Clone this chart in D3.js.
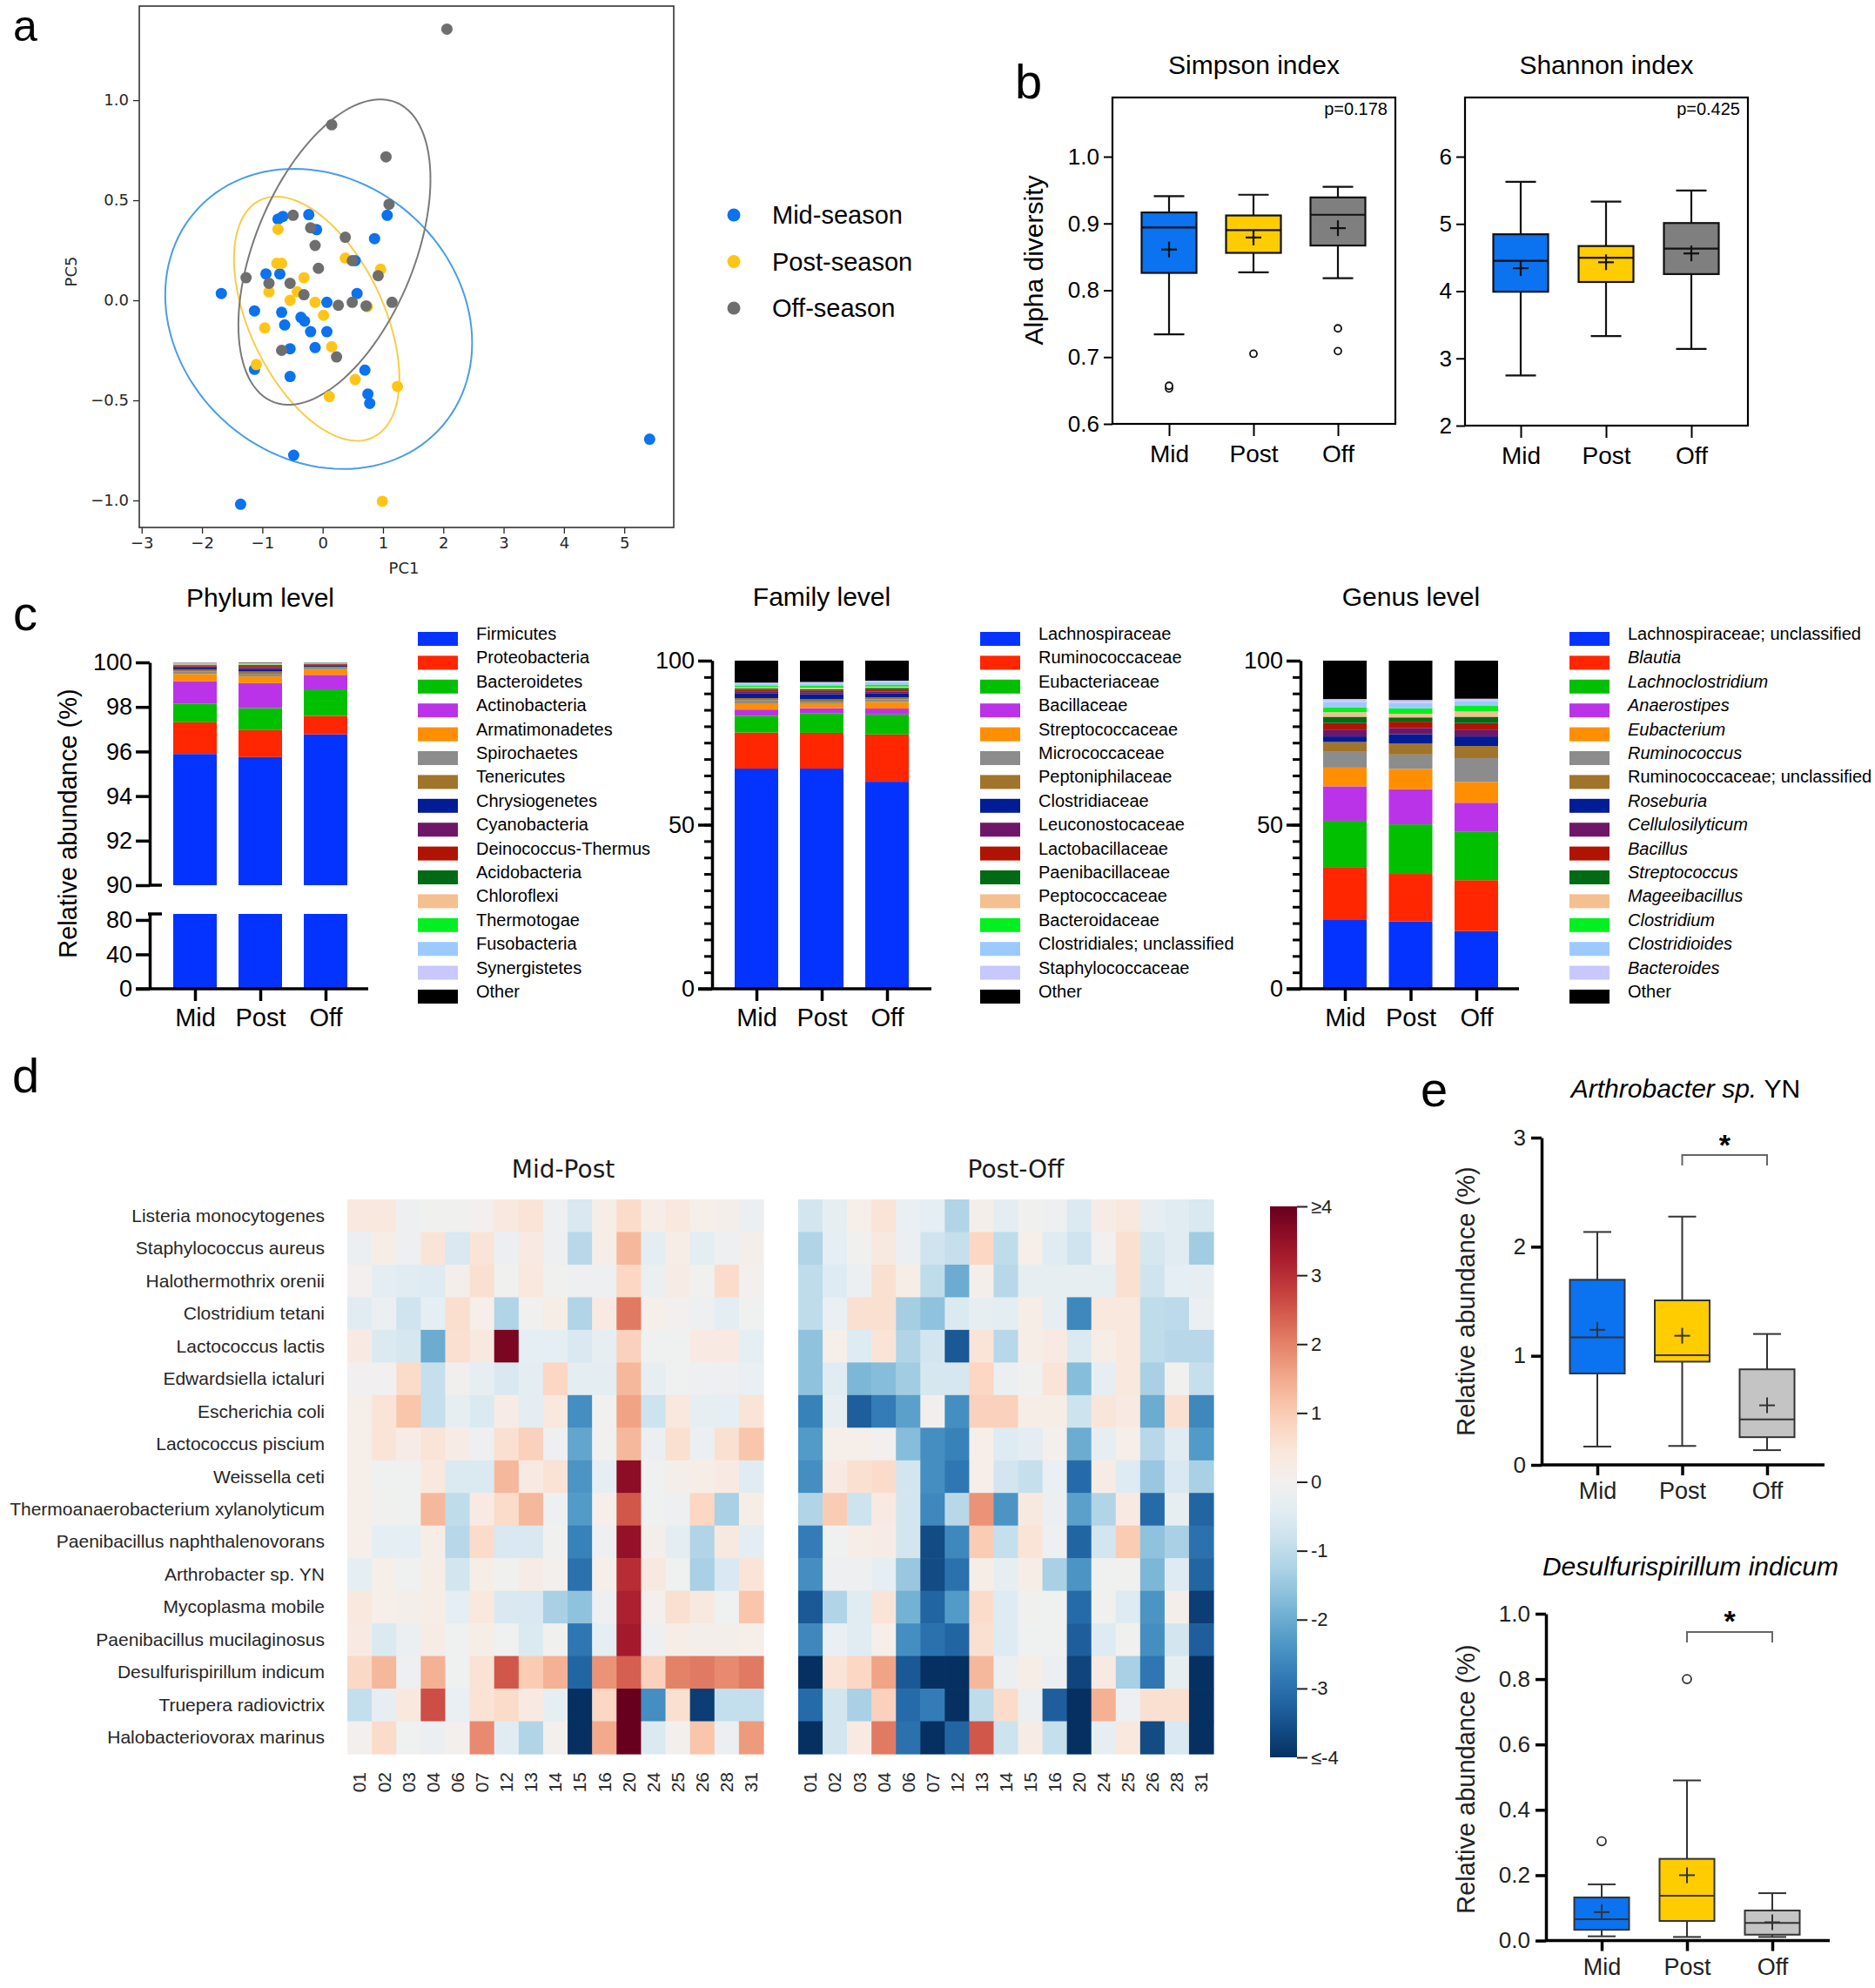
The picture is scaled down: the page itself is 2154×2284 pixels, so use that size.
<!DOCTYPE html>
<html><head><meta charset="utf-8">
<script src="https://cdn.jsdelivr.net/npm/d3@7"></script>
<style>body{margin:0;background:#fff}</style>
</head><body>
<svg id="fig" width="2154" height="2284" xmlns="http://www.w3.org/2000/svg"></svg>
<script>
// ================= DATA =================
const seasonNames = ["Mid-season", "Post-season", "Off-season"];
const groups = ["Mid", "Post", "Off"];

// Panel a: PCA scores [PC1, PC5]
const pcaMid = [[5.42,-0.694],[-1.36,-1.019],[-0.48,-0.774],[-1.68,0.034],[-1.13,-0.053],[-0.94,0.132],[-0.71,0.132],
  [-0.74,0.406],[-0.66,0.419],[-0.23,0.428],[-0.10,0.353],[0.86,0.308],[1.07,0.425],[0.54,0.198],[0.57,0.034],
  [0.07,-0.010],[-0.68,-0.060],[-0.63,-0.123],[-0.36,-0.085],[-0.30,-0.104],[-0.20,-0.157],[0.07,-0.157],
  [-0.54,-0.242],[-0.125,-0.236],[-1.13,-0.345],[-0.54,-0.381],[0.70,-0.349],[0.75,-0.468],[0.78,-0.515]];
const pcaPost = [[0.99,-1.004],[-0.74,0.355],[-0.76,0.185],[-0.68,0.185],[0.375,0.211],[0.96,0.155],[-0.31,0.113],
  [-0.89,0.042],[-0.42,0.042],[-0.54,0.0],[-0.125,-0.010],[0.015,-0.075],[-0.96,-0.138],[0.15,-0.232],
  [-1.10,-0.321],[0.54,-0.396],[0.11,-0.481],[1.24,-0.430],[0.74,-0.032]];
const pcaOff = [[2.06,1.355],[0.15,0.877],[1.05,0.717],[1.10,0.480],[-0.49,0.425],[-0.20,0.362],[0.375,0.315],
  [-0.125,0.274],[-0.07,0.160],[0.49,0.198],[0.92,0.123],[-1.27,0.113],[-0.89,0.085],[-0.54,0.085],[-0.31,0.028],
  [0.26,-0.025],[0.49,-0.010],[0.72,-0.028],[1.15,-0.010],[-0.68,-0.250],[0.23,-0.283]];
// confidence ellipses: [centre PC1, centre PC5, half-range PC1, half-range PC5, phase (deg)]
const ellipseMid = [-0.066, -0.093, 2.544, 0.750, 99.2];
const ellipsePost = [-0.099, -0.092, 1.371, 0.610, 119.3];
const ellipseOff = [0.195, 0.241, 1.592, 0.763, 61.5];
const pcaXTicks = [-3,-2,-1,0,1,2,3,4,5];
const pcaYTicks = [-1.0,-0.5,0.0,0.5,1.0];

// Panel b: box stats [min, Q1, median, Q3, max, mean]
const simpsonStats = [[0.734,0.826,0.894,0.9165,0.941,0.861],[0.827,0.856,0.890,0.912,0.943,0.879],[0.818,0.867,0.913,0.939,0.955,0.893]];
const simpsonOutliers = [[0.653,0.657],[0.705],[0.709,0.743]];
const shannonStats = [[2.746,3.991,4.452,4.846,5.627,4.342],[3.333,4.136,4.496,4.671,5.333,4.430],[3.140,4.254,4.632,5.013,5.496,4.561]];
const shannonOutliers = [[],[],[]];
const simpsonTicks = [0.6,0.7,0.8,0.9,1.0];
const shannonTicks = [2,3,4,5,6];
const pValues = ["p=0.178", "p=0.425"];

// Panel c: relative abundance (%) per group, taxa in stacking order
const phylumNames = ["Firmicutes","Proteobacteria","Bacteroidetes","Actinobacteria","Armatimonadetes","Spirochaetes","Tenericutes","Chrysiogenetes","Cyanobacteria","Deinococcus-Thermus","Acidobacteria","Chloroflexi","Thermotogae","Fusobacteria","Synergistetes","Other"];
const phylumMid  = [95.89,1.42,0.84,1.01,0.32,0.12,0.08,0.08,0.06,0.05,0.03,0.03,0.02,0.02,0.02,0.01];
const phylumPost = [95.75,1.21,0.99,1.12,0.30,0.12,0.10,0.12,0.07,0.06,0.04,0.03,0.03,0.02,0.02,0.02];
const phylumOff  = [96.77,0.83,1.19,0.65,0.24,0.07,0.06,0.04,0.04,0.03,0.02,0.02,0.01,0.01,0.01,0.01];
const familyNames = ["Lachnospiraceae","Ruminococcaceae","Eubacteriaceae","Bacillaceae","Streptococcaceae","Micrococcaceae","Peptoniphilaceae","Clostridiaceae","Leuconostocaceae","Lactobacillaceae","Paenibacillaceae","Peptococcaceae","Bacteroidaceae","Clostridiales; unclassified","Staphylococcaceae","Other"];
const familyMid  = [67.1,11.0,5.1,1.9,1.9,0.9,0.7,1.5,0.4,0.6,0.4,0.4,0.4,0.6,0.4,6.7];
const familyPost = [67.1,10.9,5.9,1.6,1.3,0.7,0.7,1.6,0.6,0.5,0.4,0.4,0.6,0.7,0.5,6.5];
const familyOff  = [63.1,14.4,6.1,1.8,2.0,0.8,0.6,1.3,0.5,0.6,0.5,0.4,0.6,0.7,0.5,6.1];
const genusNames = ["Lachnospiraceae; unclassified","Blautia","Lachnoclostridium","Anaerostipes","Eubacterium","Ruminococcus","Ruminococcaceae; unclassified","Roseburia","Cellulosilyticum","Bacillus","Streptococcus","Mageeibacillus","Clostridium","Clostridioides","Bacteroides","Other"];
const genusItalic = [false,true,true,true,true,true,false,true,true,true,true,true,true,true,true,false];
const genusMid  = [20.95,16.15,14.1,10.5,5.7,5.0,2.8,1.7,2.1,2.0,1.9,1.4,1.4,1.7,0.9,11.7];
const genusPost = [20.5,14.5,15.1,10.7,6.2,4.4,3.4,2.8,1.9,1.9,1.3,1.1,1.7,1.6,0.9,12.0];
const genusOff  = [17.6,15.5,14.7,8.9,6.3,7.3,3.7,2.9,2.1,2.0,1.9,1.7,1.6,1.4,0.8,11.6];
const phylumUpperTicks = [90,92,94,96,98,100];
const phylumLowerTicks = [0,40,80];
const phylumBreak = [87, 90];
const pctMajorTicks = [0,50,100];
const pctMinorTicks = d3.range(0,101,5);

// Panel d: log2 fold change heatmaps
const heatRows = ["Listeria monocytogenes","Staphylococcus aureus","Halothermothrix orenii","Clostridium tetani","Lactococcus lactis","Edwardsiella ictaluri","Escherichia coli","Lactococcus piscium","Weissella ceti","Thermoanaerobacterium xylanolyticum","Paenibacillus naphthalenovorans","Arthrobacter sp. YN","Mycoplasma mobile","Paenibacillus mucilaginosus","Desulfurispirillum indicum","Truepera radiovictrix","Halobacteriovorax marinus"];
const heatCols = ["01","02","03","04","06","07","12","13","14","15","16","20","24","25","26","28","31"];
const heatMidPost = [
 [0.4,0.4,-0.15,-0.05,-0.05,0.0,0.4,0.5,-0.15,-0.6,0.2,0.7,0.2,0.4,0.15,0.1,-0.2],
 [-0.2,0.2,-0.15,0.5,-0.6,0.5,-0.2,0.3,-0.15,-1.1,0.2,1.3,-0.4,0.2,-0.4,-0.15,0.1],
 [0.0,-0.4,-0.45,-0.5,0.1,0.6,-0.05,0.4,-0.05,-0.15,-0.15,0.8,-0.2,0.25,-0.05,0.7,0.05],
 [-0.45,-0.2,-0.75,-0.35,0.65,0.15,-1.2,-0.05,0.2,-1.2,0.3,2.1,0.15,0.0,-0.15,-0.4,-0.1],
 [0.3,-0.55,-0.65,-2.0,0.6,0.35,3.8,-0.35,-0.35,-0.6,-0.3,0.9,-0.1,-0.1,0.3,0.3,-0.35],
 [-0.03,-0.03,0.7,-0.9,-0.02,-0.3,-0.6,-0.4,0.8,-0.4,-0.4,1.3,-0.3,-0.1,-0.15,-0.15,-0.25],
 [0.15,0.5,1.1,-0.9,-0.3,-0.55,0.25,-0.4,0.4,-2.5,-0.05,1.6,-0.8,0.4,-0.3,-0.35,0.5],
 [0.15,0.5,0.25,0.5,0.25,-0.15,0.6,0.9,-0.15,-2.1,-0.05,1.3,-0.2,0.6,-0.2,0.6,1.1],
 [0.15,-0.1,-0.1,0.4,-0.55,-0.55,1.3,0.3,0.55,-2.4,-0.35,3.6,-0.1,0.1,0.2,0.3,-0.45],
 [0.15,-0.05,-0.1,1.3,-1.0,0.3,0.7,1.3,-0.15,-2.3,0.15,2.5,-0.1,-0.15,0.8,-1.3,0.2],
 [0.15,-0.35,-0.35,0.2,-1.1,0.7,-0.6,-0.6,-0.05,-2.7,-0.15,3.5,0.1,-0.4,-1.2,0.35,-0.4],
 [-0.35,0.15,-0.1,0.2,-0.7,0.2,-0.05,0.25,0.05,-3.0,0.15,3.0,0.35,-0.1,-1.3,-0.6,0.5],
 [0.4,0.15,0.1,0.2,-0.35,0.4,-0.6,-0.6,-1.3,-1.6,-0.15,3.2,0.05,0.6,0.35,-0.1,1.1],
 [0.3,-0.55,-0.2,0.25,-0.1,0.2,-0.1,-0.55,-0.05,-2.9,-0.35,3.3,-0.15,0.2,0.1,0.1,0.15],
 [0.75,1.3,-0.15,1.4,-0.1,0.55,2.5,1.0,1.4,-3.2,1.8,2.4,0.9,2.0,2.1,1.9,2.1],
 [-0.95,-0.3,0.4,2.6,-0.25,0.55,0.7,0.3,-0.35,-4,0.8,4,-2.5,0.6,-3.8,-0.95,-0.95],
 [0.05,0.7,-0.1,-0.2,0.02,1.9,-0.45,-1.2,0.02,-4,1.5,4,-0.55,0.05,1.1,-0.2,1.7]];
const heatPostOff = [
 [-0.7,-0.3,0.15,0.5,-0.25,-0.35,-1.2,0.1,-0.4,-0.05,-0.15,-0.55,0.25,0.4,-0.3,-0.45,-0.6],
 [-1.2,-0.35,-0.05,0.35,-0.2,-0.75,-0.9,0.8,-1.0,0.15,-0.45,-0.75,-0.05,0.6,-0.65,-0.45,-1.4],
 [-1.0,-0.5,-0.2,0.6,0.2,-1.0,-2.0,0.1,-1.1,-0.3,-0.3,-0.3,-0.3,0.6,-0.75,-0.35,-0.3],
 [-1.0,-0.25,0.6,0.6,-1.35,-1.6,-0.55,-0.3,-0.4,0.2,-0.3,-2.6,0.4,0.4,-1.0,-1.05,-0.2],
 [-1.6,0.15,-0.5,0.5,-1.2,-0.7,-3.4,0.5,-1.1,0.2,0.3,-0.55,0.2,0.4,-1.0,-1.1,-1.1],
 [-1.6,-0.45,-1.8,-1.7,-1.4,-0.65,-0.65,0.8,-0.2,-0.05,0.5,-1.7,-0.3,0.4,-1.3,-0.05,-0.9],
 [-2.7,-0.3,-3.3,-2.8,-2.2,-0.02,-2.5,0.9,0.9,0.2,0.2,-0.8,0.45,0.3,-2.0,0.6,-2.6],
 [-2.3,0.15,0.15,0.0,-1.7,-2.5,-2.7,0.15,-0.5,-0.4,0.05,-2.0,-0.3,0.15,-1.1,-0.45,-2.3],
 [-2.5,0.3,0.6,0.7,-0.7,-2.5,-2.9,0.15,-0.7,-0.9,-0.25,-3.1,0.25,-0.5,-1.5,-0.6,-1.3],
 [-1.2,1.0,-0.8,0.3,-0.7,-2.6,-1.1,1.8,-2.4,0.35,-0.2,-2.2,-1.2,0.3,-3.1,-0.3,-3.2],
 [-2.8,-0.1,0.2,0.25,-0.7,-3.6,-2.6,1.0,-0.9,0.5,-0.15,-3.2,-0.7,1.0,-1.6,-1.3,-3.0],
 [-2.5,-0.15,-0.15,-0.35,-1.5,-3.6,-3.0,0.2,-0.3,0.2,-1.3,-2.4,-0.1,-0.05,-1.8,-0.5,-3.2],
 [-3.4,-1.2,-0.45,0.5,-1.9,-3.2,-2.3,0.7,-0.5,-0.05,-0.1,-3.1,-0.05,-0.5,-2.4,0.1,-3.8],
 [-2.6,-0.25,-0.45,0.15,-2.5,-3.0,-3.2,0.6,-0.5,-0.1,-0.1,-3.3,-0.5,-0.05,-2.5,-0.7,-3.3],
 [-4,0.5,0.8,1.6,-3.4,-4,-4,1.3,-0.2,0.2,-0.2,-3.7,0.3,-1.3,-2.9,-0.3,-4],
 [-3.1,-0.7,-1.3,0.9,-3.1,-2.8,-4,-1.0,0.7,-0.2,-3.3,-4,1.4,-0.15,0.6,0.6,-4],
 [-4,-0.7,0.3,2.1,-3.0,-4,-3.2,2.5,-0.8,0.25,-0.9,-4,-0.3,0.4,-3.6,-0.6,-4]];
const colorbarTicks = [-4,-3,-2,-1,0,1,2,3,4];
const colorbarLabels = ["≤-4","-3","-2","-1","0","1","2","3","≥4"];

// Panel e: box stats [min, Q1, median, Q3, max, mean]
const arthroStats = [[0.168,0.838,1.168,1.697,2.135,1.238],[0.173,0.946,1.005,1.508,2.276,1.184],[0.135,0.254,0.416,0.876,1.200,0.546]];
const arthroOutliers = [[],[],[]];
const desulfStats = [[0.013,0.033,0.065,0.132,0.172,0.087],[0.011,0.060,0.137,0.250,0.490,0.200],[0.011,0.018,0.054,0.092,0.145,0.056]];
const desulfOutliers = [[0.304],[0.80],[]];
const arthroTicks = [0,1,2,3];
const desulfTicks = [0,0.2,0.4,0.6,0.8,1.0];

// ================= STYLE =================
const F = "'Liberation Sans', Arial, Helvetica, sans-serif";
const FD = "'DejaVu Sans', Verdana, sans-serif";
const seasonColors = ["#0b72f0", "#ffc516", "#6e6e6e"];
const ellipseColors = ["#4a9de8", "#f8cd4a", "#7a7a7a"];
const boxColorsB = ["#0b72f0", "#ffcc00", "#7f7f7f"];
const boxColorsE = ["#0b72f0", "#ffcc00", "#c4c4c4"];
const palette = ["#0433ff","#ff2600","#00c000","#bb33e8","#ff8f00","#8c8c8c","#a0742a","#001c96","#6e1768","#b01400","#006a14","#f5c08f","#00f020","#9ccaff","#c8c8ff","#000000"];

const svg = d3.select("#fig");
svg.append("rect").attr("width",2154).attr("height",2284).attr("fill","#fff");

function txt(g, x, y, s, size, opts = {}) {
  const t = g.append("text").attr("x", x).attr("y", y).text(s)
    .attr("font-family", opts.family || F).attr("font-size", size)
    .attr("fill", opts.fill || "#000").attr("text-anchor", opts.anchor || "start");
  if (opts.italic) t.attr("font-style", "italic");
  if (opts.weight) t.attr("font-weight", opts.weight);
  if (opts.rotate) t.attr("transform", `rotate(${opts.rotate},${x},${y})`);
  return t;
}
function styleAxis(g, size, width, color, family) {
  g.selectAll("text").attr("font-family", family || F).attr("font-size", size).attr("fill", color || "#000");
  g.selectAll("line").attr("stroke", color || "#000").attr("stroke-width", width);
  g.selectAll("path.domain").attr("stroke", color || "#000").attr("stroke-width", width);
}

// panel letters
[["a",15,47,50],["b",1166,113,56],["c",15,724,56],["d",14,1255,56],["e",1632,1271,56]].forEach(d => txt(svg, d[1], d[2], d[0], d[3]));

// ================= PANEL A =================
{
  const g = svg.append("g");
  const x = d3.scaleLinear().domain([-3.04, 5.82]).range([160, 774]);
  const y = d3.scaleLinear().domain([-1.135, 1.47]).range([606, 7]);
  const ax = g.append("g").attr("transform","translate(0,606)")
    .call(d3.axisBottom(x).tickValues(pcaXTicks).tickFormat(d3.format("d")).tickSize(7).tickPadding(4));
  ax.select(".domain").remove();
  styleAxis(ax, 18, 1.3, "#262626", FD);
  const ay = g.append("g").attr("transform","translate(160,0)")
    .call(d3.axisLeft(y).tickValues(pcaYTicks).tickFormat(d3.format(".1f")).tickSize(7).tickPadding(5));
  ay.select(".domain").remove();
  styleAxis(ay, 18, 1.3, "#262626", FD);
  g.append("rect").attr("x",160).attr("y",7).attr("width",614).attr("height",599)
    .attr("fill","none").attr("stroke","#333").attr("stroke-width",1.6);
  txt(g, 464, 659, "PC1", 18, {family: FD, anchor: "middle", fill: "#262626"});
  txt(g, 88, 312, "PC5", 18, {family: FD, anchor: "middle", fill: "#262626", rotate: -90});

  const ells = [ellipseMid, ellipsePost, ellipseOff];
  const line = d3.line().x(d => x(d[0])).y(d => y(d[1]));
  ells.forEach((e, i) => {
    const ph = e[4] * Math.PI / 180;
    const pts = d3.range(0, 361, 3).map(a => { const t = a * Math.PI / 180; return [e[0] + e[2]*Math.cos(t), e[1] + e[3]*Math.cos(t - ph)]; });
    g.append("path").attr("d", line(pts)).attr("fill","none").attr("stroke", ellipseColors[i]).attr("stroke-width", 2);
  });
  [pcaMid, pcaPost, pcaOff].forEach((pts, i) => {
    g.selectAll(null).data(pts).enter().append("circle")
      .attr("cx", d => x(d[0])).attr("cy", d => y(d[1])).attr("r", 6.5).attr("fill", seasonColors[i]);
  });
  // legend
  const ly = d3.scalePoint().domain(seasonNames).range([247, 354]);
  seasonNames.forEach((s, i) => {
    g.append("circle").attr("cx", 843).attr("cy", ly(s)).attr("r", 7.5).attr("fill", seasonColors[i]);
    txt(g, 887, ly(s) + 10, s, 29);
  });
}

// ================= BOX PLOT HELPER =================
function drawBox(g, x, y, cat, s, outs, fill, o) {
  const cx = x(cat);
  const sw = o.sw, st = o.stroke;
  g.append("line").attr("x1",cx).attr("x2",cx).attr("y1",y(s[0])).attr("y2",y(s[4])).attr("stroke",st).attr("stroke-width",sw);
  [s[0], s[4]].forEach(v => g.append("line").attr("x1",cx-o.cw/2).attr("x2",cx+o.cw/2).attr("y1",y(v)).attr("y2",y(v)).attr("stroke",st).attr("stroke-width",sw));
  g.append("rect").attr("x",cx-o.bw/2).attr("width",o.bw).attr("y",y(s[3])).attr("height",y(s[1])-y(s[3]))
    .attr("fill",fill).attr("stroke",st).attr("stroke-width",sw);
  g.append("line").attr("x1",cx-o.bw/2).attr("x2",cx+o.bw/2).attr("y1",y(s[2])).attr("y2",y(s[2])).attr("stroke",st).attr("stroke-width",sw);
  const m = y(s[5]);
  g.append("line").attr("x1",cx-o.pl).attr("x2",cx+o.pl).attr("y1",m).attr("y2",m).attr("stroke",st).attr("stroke-width",sw);
  g.append("line").attr("x1",cx).attr("x2",cx).attr("y1",m-o.pl).attr("y2",m+o.pl).attr("stroke",st).attr("stroke-width",sw);
  outs.forEach(v => g.append("circle").attr("cx",cx).attr("cy",y(v)).attr("r",o.or).attr("fill","#fff").attr("stroke",st).attr("stroke-width",1.8));
}

// ================= PANEL B =================
function panelB(x0, x1, yTop, yBot, domain, ticks, fmt, stats, outs, centers, title, pval) {
  const g = svg.append("g");
  const y = d3.scaleLinear().domain(domain).range([yBot, yTop.at0]);
  const x = d3.scalePoint().domain(groups).range(centers);
  const ay = g.append("g").attr("transform",`translate(${x0},0)`)
    .call(d3.axisLeft(y).tickValues(ticks).tickFormat(fmt).tickSize(10).tickPadding(5));
  ay.select(".domain").remove();
  styleAxis(ay, 26, 2, "#000");
  const ax = g.append("g").attr("transform",`translate(0,${yBot})`)
    .call(d3.axisBottom(x).tickSize(14).tickPadding(10));
  ax.select(".domain").remove();
  styleAxis(ax, 28, 2, "#000");
  g.append("rect").attr("x",x0).attr("y",yTop.frame).attr("width",x1-x0).attr("height",yBot-yTop.frame)
    .attr("fill","none").attr("stroke","#000").attr("stroke-width",2.2);
  groups.forEach((c, i) => drawBox(g, x, y, c, stats[i], outs[i], boxColorsB[i], {bw:63, cw:35, sw:2.2, stroke:"#111", pl:9, or:4}));
  txt(g, (x0+x1)/2, 85, title, 30, {anchor:"middle"});
  txt(g, x1-9, 132, pval, 20, {anchor:"end"});
}
panelB(1278, 1603, {at0:180, frame:112}, 487, [0.6,1.0], simpsonTicks, d3.format(".1f"), simpsonStats, simpsonOutliers, [1343,1537], "Simpson index", pValues[0]);
panelB(1683, 2008, {at0:180, frame:112}, 489, [2,6], shannonTicks, d3.format("d"), shannonStats, shannonOutliers, [1747,1943], "Shannon index", pValues[1]);
txt(svg, 1198, 299, "Alpha diversity", 30, {anchor:"middle", rotate:-90});

// ================= PANEL C =================
function legend(g, names, x0, italic) {
  const ly = d3.scalePoint().domain(d3.range(names.length)).range([734, 1145]);
  names.forEach((n, i) => {
    g.append("rect").attr("x", x0).attr("y", ly(i)-8).attr("width", 46).attr("height", 16).attr("fill", palette[i]);
    txt(g, x0 + 67, ly(i) + 1, n, 20, {italic: italic ? italic[i] : false});
  });
}
function stackBars(g, vals, x, y, bw) {
  groups.forEach((grp, gi) => {
    let cum = 0;
    vals[gi].forEach((v, i) => {
      const y0 = cum, y1 = cum + v; cum = y1;
      const top = y(y1), bot = y(y0);
      if (bot - top > 0.01)
        g.append("rect").attr("x", x(grp)-bw/2).attr("width", bw).attr("y", top).attr("height", bot-top).attr("fill", palette[i]);
    });
  });
}
function xAxisC(g, x, axX, xEnd, yBase) {
  const ax = g.append("g").attr("transform",`translate(0,${yBase})`).call(d3.axisBottom(x).tickSize(14).tickPadding(8));
  ax.select(".domain").remove();
  styleAxis(ax, 29, 3.5, "#000");
  g.append("line").attr("x1",axX-16).attr("x2",xEnd).attr("y1",yBase).attr("y2",yBase).attr("stroke","#000").attr("stroke-width",3.5);
}
// Phylum
{
  const g = svg.append("g");
  const x = d3.scalePoint().domain(groups).range([224, 374]);
  const yUp = d3.scaleLinear().domain([phylumBreak[1], 100]).range([1017, 761]).clamp(true);
  const yLow = d3.scaleLinear().domain([0, phylumBreak[0]]).range([1136, 1050]).clamp(true);
  const vals = [phylumMid, phylumPost, phylumOff];
  // lower segment: only the part of the stack up to the break
  groups.forEach((grp, gi) => {
    g.append("rect").attr("x", x(grp)-25).attr("width", 50).attr("y", yLow(Math.min(vals[gi][0], phylumBreak[0])))
      .attr("height", yLow(0) - yLow(Math.min(vals[gi][0], phylumBreak[0]))).attr("fill", palette[0]);
  });
  stackBars(g, vals, x, yUp, 50);
  const a1 = g.append("g").attr("transform","translate(172,0)").call(d3.axisLeft(yUp).tickValues(phylumUpperTicks).tickSize(16).tickSizeOuter(0).tickPadding(4));
  styleAxis(a1, 27, 3.5, "#000");
  const a2 = g.append("g").attr("transform","translate(172,0)").call(d3.axisLeft(yLow).tickValues(phylumLowerTicks).tickSize(16).tickSizeOuter(0).tickPadding(4));
  styleAxis(a2, 27, 3.5, "#000");
  g.append("line").attr("x1",172).attr("x2",186).attr("y1",yUp(phylumBreak[1])).attr("y2",yUp(phylumBreak[1])).attr("stroke","#000").attr("stroke-width",3.5);
  g.append("line").attr("x1",170).attr("x2",186).attr("y1",yLow(phylumBreak[0])).attr("y2",yLow(phylumBreak[0])).attr("stroke","#000").attr("stroke-width",3.5);
  xAxisC(g, x, 172, 423, 1136);
  txt(g, 299, 697, "Phylum level", 30, {anchor:"middle"});
  txt(g, 88, 946, "Relative abundance (%)", 29, {anchor:"middle", rotate:-90});
  legend(g, phylumNames, 480);
}
function pctPanel(vals, names, italic, axX, centers, xEnd, title, titleX, legX) {
  const g = svg.append("g");
  const x = d3.scalePoint().domain(groups).range(centers);
  const y = d3.scaleLinear().domain([0,100]).range([1136, 759]);
  stackBars(g, vals, x, y, 50);
  const a2 = g.append("g").attr("transform",`translate(${axX},0)`).call(d3.axisLeft(y).tickValues(pctMinorTicks).tickFormat("").tickSize(9).tickSizeOuter(0));
  styleAxis(a2, 27, 3, "#000");
  const a1 = g.append("g").attr("transform",`translate(${axX},0)`).call(d3.axisLeft(y).tickValues(pctMajorTicks).tickSize(16).tickSizeOuter(0).tickPadding(4));
  styleAxis(a1, 27, 3.5, "#000");
  xAxisC(g, x, axX, xEnd, 1136);
  txt(g, titleX, 696, title, 30, {anchor:"middle"});
  legend(g, names, legX, italic);
}
pctPanel([familyMid, familyPost, familyOff], familyNames, null, 818, [869, 1019], 1070, "Family level", 944, 1126);
pctPanel([genusMid, genusPost, genusOff], genusNames, genusItalic, 1494, [1545, 1696], 1745, "Genus level", 1621, 1803);

// ================= PANEL D =================
{
  const g = svg.append("g");
  const color = v => d3.interpolateRdBu(1 - (Math.max(-4, Math.min(4, v)) + 4) / 8);
  const y = d3.scaleBand().domain(heatRows).range([1378, 2015]);
  const maps = [[heatMidPost, 399, 877, "Mid-Post", 647], [heatPostOff, 917, 1394, "Post-Off", 1167]];
  maps.forEach(([m, x0, x1, title, tx]) => {
    const x = d3.scaleBand().domain(heatCols).range([x0, x1]);
    heatRows.forEach((r, ri) => heatCols.forEach((c, ci) => {
      g.append("rect").attr("x", x(c)).attr("y", y(r)).attr("width", x.bandwidth()+0.6).attr("height", y.bandwidth()+0.6)
        .attr("fill", color(m[ri][ci]));
    }));
    heatCols.forEach(c => {
      const cx = x(c) + x.bandwidth()/2;
      g.append("text").attr("transform", `translate(${cx},2036) rotate(-90)`).attr("text-anchor","end").attr("dy","0.35em")
        .attr("font-family", F).attr("font-size", 21).attr("fill","#262626").text(c);
    });
    txt(g, tx, 1353, title, 28, {anchor:"middle", family: FD, fill:"#1a1a1a"});
  });
  heatRows.forEach(r => txt(g, 373, y(r) + y.bandwidth()/2 + 7, r, 21, {anchor:"end", fill:"#262626"}));
  // colour bar
  const yc = d3.scaleLinear().domain([-4, 4]).range([2019, 1386]);
  const defs = svg.append("defs");
  const grad = defs.append("linearGradient").attr("id","cb").attr("x1",0).attr("x2",0).attr("y1",1).attr("y2",0);
  d3.range(0, 1.0001, 0.05).forEach(t => grad.append("stop").attr("offset", t).attr("stop-color", color(-4 + 8*t)));
  g.append("rect").attr("x",1459).attr("y",1386).attr("width",31).attr("height",633).attr("fill","url(#cb)");
  const ac = g.append("g").attr("transform","translate(1490,0)")
    .call(d3.axisRight(yc).tickValues(colorbarTicks).tickFormat((d,i) => colorbarLabels[i]).tickSize(12).tickPadding(4));
  ac.select(".domain").remove();
  styleAxis(ac, 22, 2, "#222");
}

// ================= PANEL E =================
function panelE(axX, xEnd, yBot, yTopV, domain, ticks, fmt, stats, outs, centers, title, titleY, brY, starY, ylabY) {
  const g = svg.append("g");
  const y = d3.scaleLinear().domain(domain).range([yBot, yTopV]);
  const x = d3.scalePoint().domain(groups).range(centers);
  const ay = g.append("g").attr("transform",`translate(${axX},0)`)
    .call(d3.axisLeft(y).tickValues(ticks).tickFormat(fmt).tickSize(12).tickSizeOuter(0).tickPadding(6));
  styleAxis(ay, 26, 3.5, "#000");
  ay.selectAll("text").attr("fill","#222");
  const ax = g.append("g").attr("transform",`translate(0,${yBot})`).call(d3.axisBottom(x).tickSize(12).tickPadding(8));
  ax.select(".domain").remove();
  styleAxis(ax, 27, 3.5, "#000");
  ax.selectAll("text").attr("fill","#222");
  g.append("line").attr("x1",axX).attr("x2",xEnd).attr("y1",yBot).attr("y2",yBot).attr("stroke","#000").attr("stroke-width",3.5);
  groups.forEach((c, i) => drawBox(g, x, y, c, stats[i], outs[i], boxColorsE[i], {bw:63, cw:32, sw:2, stroke:"#333", pl:9, or:5}));
  const p = d3.path();
  p.moveTo(x("Post"), brY + 12); p.lineTo(x("Post"), brY); p.lineTo(x("Off"), brY); p.lineTo(x("Off"), brY + 12);
  g.append("path").attr("d", p.toString()).attr("fill","none").attr("stroke","#666").attr("stroke-width",2);
  txt(g, (x("Post") + x("Off"))/2, starY, "*", 34, {anchor:"middle", weight:"bold"});
  txt(g, (axX + xEnd)/2 + 3, titleY, title[0], 30, {anchor:"middle", italic:true}).append("tspan").attr("font-style","normal").text(title[1]);
  txt(g, 1694, ylabY, "Relative abundance (%)", 29, {anchor:"middle", rotate:-90, fill:"#222"});
}
panelE(1771, 2096, 1683, 1307, [0,3], arthroTicks, d3.format("d"), arthroStats, arthroOutliers, [1835, 2030], ["Arthrobacter sp. ", "YN"], 1261, 1327, 1327, 1495);
panelE(1776, 2102, 2229.5, 1854, [0,1], desulfTicks, d3.format(".1f"), desulfStats, desulfOutliers, [1840, 2036], ["Desulfurispirillum indicum", ""], 1810, 1875, 1874, 2044);
</script>
</body></html>
